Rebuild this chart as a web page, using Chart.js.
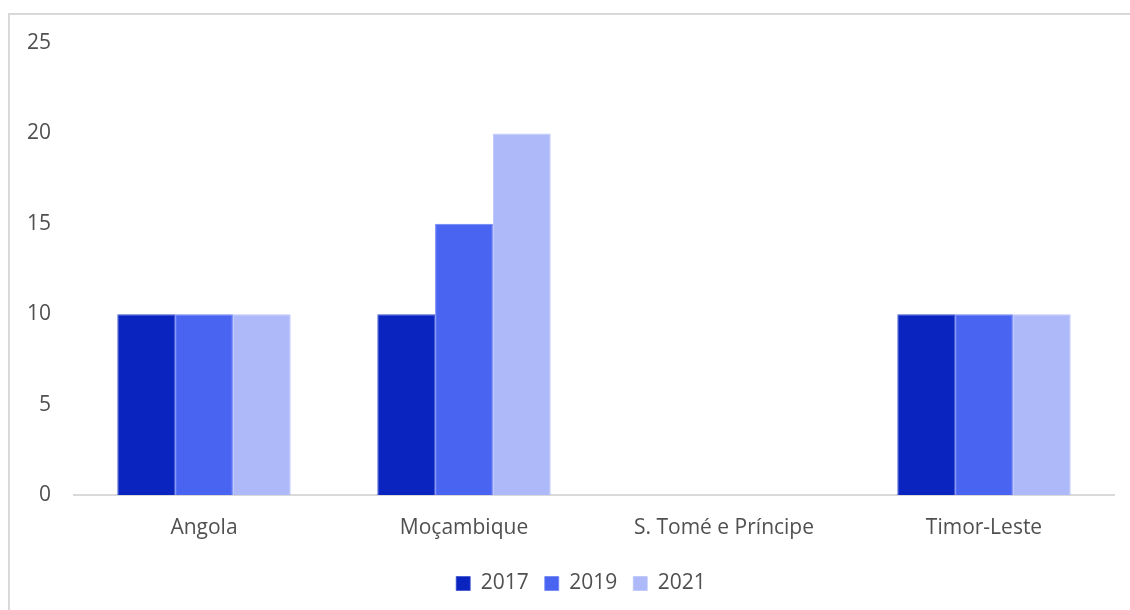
<!DOCTYPE html>
<html>
<head>
<meta charset="utf-8">
<script src="https://cdn.jsdelivr.net/npm/chart.js@4"></script>
<style>
  html, body { margin: 0; padding: 0; background: #fff; }
  #wrap { position: relative; width: 1130px; height: 610px; overflow: hidden; }
  #frame { position: absolute; left: 8px; top: 13px; width: 1140px; height: 620px; border: 2px solid #d9d9d9; box-sizing: border-box; }
  canvas { position: absolute; left: 0; top: 0; }
</style>
</head>
<body>
<div id="wrap">
  <div id="frame"></div>
  <canvas id="chart" width="1130" height="610"></canvas>
</div>
<script>
  const categories = ["Angola", "Moçambique", "S. Tomé e Príncipe", "Timor-Leste"];
  const years = ["2017", "2019", "2021"];
  const values2017 = [10, 10, 0, 10];
  const values2019 = [10, 15, 0, 10];
  const values2021 = [10, 20, 0, 10];
  const yTicks = [0, 5, 10, 15, 20, 25];

  const colors = ["#0a24c0", "#4a64f2", "#adb9f8"];
  const edges = ["#3a50d0", "#6c82f6", "#bcc6fa"];
  const series = [values2017, values2019, values2021];

  // nudge the legend to the right, like the original sits off-centre
  const legendShift = {
    id: 'legendShift',
    afterLayout(chart) {
      chart.legend.left += 24;
      chart.legend.right += 24;
    }
  };

  const ctx = document.getElementById("chart").getContext("2d");
  Chart.defaults.font.family = "'Open Sans', sans-serif";
  Chart.defaults.color = "#505050";

  new Chart(ctx, {
    type: 'bar',
    data: {
      labels: categories,
      datasets: years.map((y, i) => ({
        label: y,
        data: series[i],
        backgroundColor: colors[i],
        borderColor: edges[i],
        borderWidth: { top: 1, left: 1, right: 1, bottom: 0 },
        categoryPercentage: 0.667,
        barPercentage: 1.0
      }))
    },
    options: {
      responsive: false,
      animation: false,
      layout: { padding: { left: 0, right: 16, top: 43, bottom: 6 } },
      plugins: {
        legend: {
          position: 'bottom',
          labels: {
            boxWidth: 14,
            boxHeight: 14,
            padding: 16,
            font: { size: 21 }
          }
        },
        tooltip: { enabled: false }
      },
      scales: {
        x: {
          grid: { display: false },
          border: { display: true, color: '#d9d9d9', width: 2 },
          ticks: { font: { size: 21 }, padding: 12, maxRotation: 0 },
          afterFit: (scale) => { scale.height = 62; }
        },
        y: {
          min: 0,
          max: 25,
          grid: { display: false },
          border: { display: false },
          afterBuildTicks: (scale) => { scale.ticks = yTicks.map(v => ({ value: v })); },
          ticks: { font: { size: 21 }, padding: 15 },
          afterFit: (scale) => { scale.width = 74; }
        }
      }
    },
    plugins: [legendShift]
  });
</script>
</body>
</html>
